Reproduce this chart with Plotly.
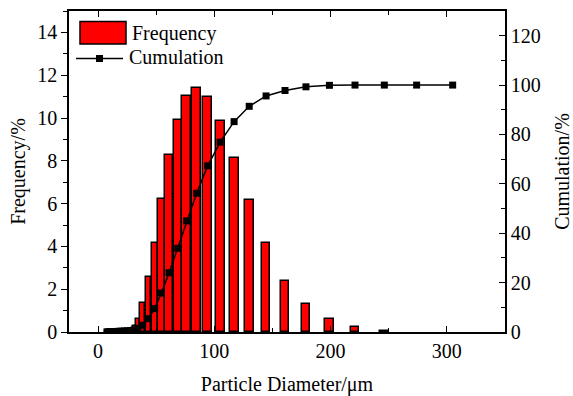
import plotly.graph_objects as go

diameter = [7.6, 8.5, 9.5, 10.6, 11.8, 13.2, 14.7, 16.4, 18.3, 20.4, 22.7, 25.3, 28.2, 31.0,
            34.1, 38.4, 43.3, 48.7, 54.5, 61.1, 68.5, 76.2, 84.8, 94.3, 105.0, 117.0, 130.0,
            144.5, 160.8, 178.8, 199.0, 221.0, 246.2, 274.0, 305.0]
frequency = [0.01, 0.02, 0.02, 0.03, 0.03, 0.04, 0.04, 0.05, 0.05, 0.06, 0.07, 0.08, 0.12, 0.27,
             0.61, 1.37, 2.55, 4.16, 6.23, 8.28, 9.93, 11.01, 11.39, 10.97, 9.87, 8.14, 6.17,
             4.17, 2.39, 1.31, 0.63, 0.23, 0.05, 0.0, 0.0]
cumulation = [0.01, 0.03, 0.05, 0.08, 0.11, 0.15, 0.19, 0.24, 0.29, 0.35, 0.42, 0.50, 0.62, 0.89,
              1.50, 2.72, 5.4, 9.5, 15.8, 24.0, 33.9, 45.0, 56.2, 67.3, 76.9, 85.2, 91.4,
              95.6, 97.8, 99.3, 99.9, 100.0, 100.0, 100.0, 100.0]

# bar widths derived from the local spacing of the size classes
widths = []
n = len(diameter)
for i in range(n):
    gaps = []
    if i > 0:
        gaps.append(diameter[i] - diameter[i - 1])
    if i < n - 1:
        gaps.append(diameter[i + 1] - diameter[i])
    g = sum(gaps) / len(gaps)
    widths.append(min(0.9 * g, 7.6))

# only non-empty classes get a bar
bx = [d for d, f in zip(diameter, frequency) if f > 0]
by = [f for f in frequency if f > 0]
bw = [w for w, f in zip(widths, frequency) if f > 0]

FONT = "Liberation Serif, Times New Roman, serif"

fig = go.Figure()
fig.add_trace(go.Bar(x=bx, y=by, width=bw, name="Frequency",
                     marker=dict(color="#FF0000", line=dict(color="black", width=1.5)),
                     showlegend=False))
fig.add_trace(go.Scatter(x=diameter, y=cumulation, yaxis="y2", name="Cumulation",
                         mode="lines+markers",
                         line=dict(color="black", width=1.5),
                         marker=dict(symbol="square", size=7, color="black"),
                         showlegend=False))

axis_common = dict(showline=True, linecolor="black", linewidth=1.5, showgrid=False,
                   zeroline=False, tickfont=dict(family=FONT, size=20, color="black"),
                   tickcolor="black", tickwidth=1.2, automargin=False)

fig.update_layout(
    width=573, height=396,
    margin=dict(l=69, r=68, t=11, b=64),
    paper_bgcolor="white", plot_bgcolor="white",
    font=dict(family=FONT, color="black"),
    bargap=0,
    xaxis=dict(range=[-25, 350], dtick=100, tick0=0, ticks="inside", ticklen=6,
               mirror="ticks",
               minor=dict(dtick=50, tick0=0, ticks="inside", ticklen=4, tickcolor="black"),
               title=dict(text="Particle Diameter/μm", font=dict(family=FONT, size=20), standoff=16),
               **axis_common),
    yaxis=dict(range=[0, 15], dtick=2, tick0=0, ticks="outside", ticklen=6,
               minor=dict(dtick=1, ticks="outside", ticklen=4, tickcolor="black"),
               title=dict(text="Frequency/%", font=dict(family=FONT, size=20), standoff=6),
               **axis_common),
    yaxis2=dict(range=[0, 130], dtick=20, tick0=0, ticks="inside", ticklen=6,
                overlaying="y", side="right",
                minor=dict(dtick=10, ticks="inside", ticklen=4, tickcolor="black"),
                title=dict(text="Cumulation/%", font=dict(family=FONT, size=20), standoff=22),
                **axis_common),
)

# legend drawn in paper coordinates
W = 573 - 69 - 68
H = 396 - 11 - 64
def px(xp):
    return (xp - 69) / W
def py(yp):
    return (396 - 64 - yp) / H

fig.add_shape(type="rect", xref="paper", yref="paper",
              x0=px(80), x1=px(126), y0=py(44), y1=py(21.5),
              fillcolor="#FF0000", line=dict(color="black", width=1.5))
fig.add_shape(type="line", xref="paper", yref="paper",
              x0=px(76), x1=px(123), y0=py(58.5), y1=py(58.5),
              line=dict(color="black", width=1.5))
fig.add_shape(type="rect", xref="paper", yref="paper",
              x0=px(96), x1=px(103), y0=py(62), y1=py(55),
              fillcolor="black", line=dict(color="black", width=0))
fig.add_annotation(xref="paper", yref="paper", x=px(130), y=py(33), text="Frequency",
                   showarrow=False, xanchor="left", yanchor="middle",
                   font=dict(family=FONT, size=20, color="black"))
fig.add_annotation(xref="paper", yref="paper", x=px(127), y=py(57.5), text="Cumulation",
                   showarrow=False, xanchor="left", yanchor="middle",
                   font=dict(family=FONT, size=20, color="black"))

fig.write_html("out.html")
